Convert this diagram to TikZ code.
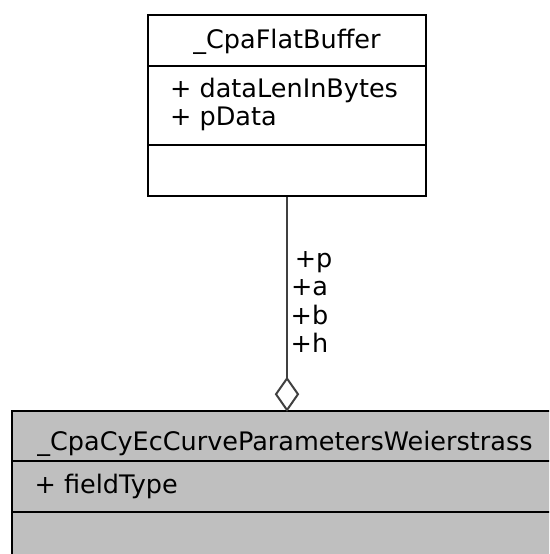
\documentclass[tikz,border=0pt]{standalone}
\usepackage{fontspec}
\setmainfont{DejaVu Sans}
\begin{document}
\begin{tikzpicture}[x=1pt,y=-1pt,
  boxline/.style={draw=black,line width=2pt},
  classbox/.style={boxline,fill=white},
  basebox/.style={boxline,fill=black!25},
  umltext/.style={inner sep=0pt,font=\fontsize{25.5}{28.5}\selectfont},
  edgeline/.style={draw=black!75,line width=2pt},
  aggr/.style={draw=black!75,fill=white,line width=2pt}]
\useasboundingbox (0,0) rectangle (549,554);
\begin{scope}
\clip (0,0) rectangle (549,554);
% _CpaFlatBuffer class box
\path[classbox] (148,15) rectangle (426,196);
\draw[boxline] (148,66) -- (426,66);
\draw[boxline] (148,145) -- (426,145);
\node[umltext,anchor=base] (fbtitle) at (287,48) {\_CpaFlatBuffer};
\node[umltext,anchor=base west] (fbattr1) at (170,97.5) {+ dataLenInBytes};
\node[umltext,anchor=base west] (fbattr2) at (170,125.5) {+ pData};
\coordinate (fbbottom) at (287,197);
% _CpaCyEcCurveParametersWeierstrass class box
\path[basebox] (12,410.5) rectangle (560,570);
\draw[boxline] (12,461) -- (560,461);
\draw[boxline] (12,512) -- (560,512);
\node[umltext,anchor=base] (wtitle) at (285,450) {\_CpaCyEcCurveParametersWeierstrass};
\node[umltext,anchor=base west] (wattr1) at (34.5,493) {+ fieldType};
% aggregation connector
\coordinate (dtop) at (287,378.5);
\coordinate (dbottom) at (287,410);
\draw[edgeline] (fbbottom) -- (dtop);
\path[aggr] (dtop) -- (298,394.2) -- (dbottom) -- (276,394.2) -- cycle;
\node[umltext,anchor=base,align=center] (rolelabel) at (309.5,352.5)
  {\hspace*{0.318em}+p\\+a\\+b\\+h};
\end{scope}
\end{tikzpicture}
\end{document}
